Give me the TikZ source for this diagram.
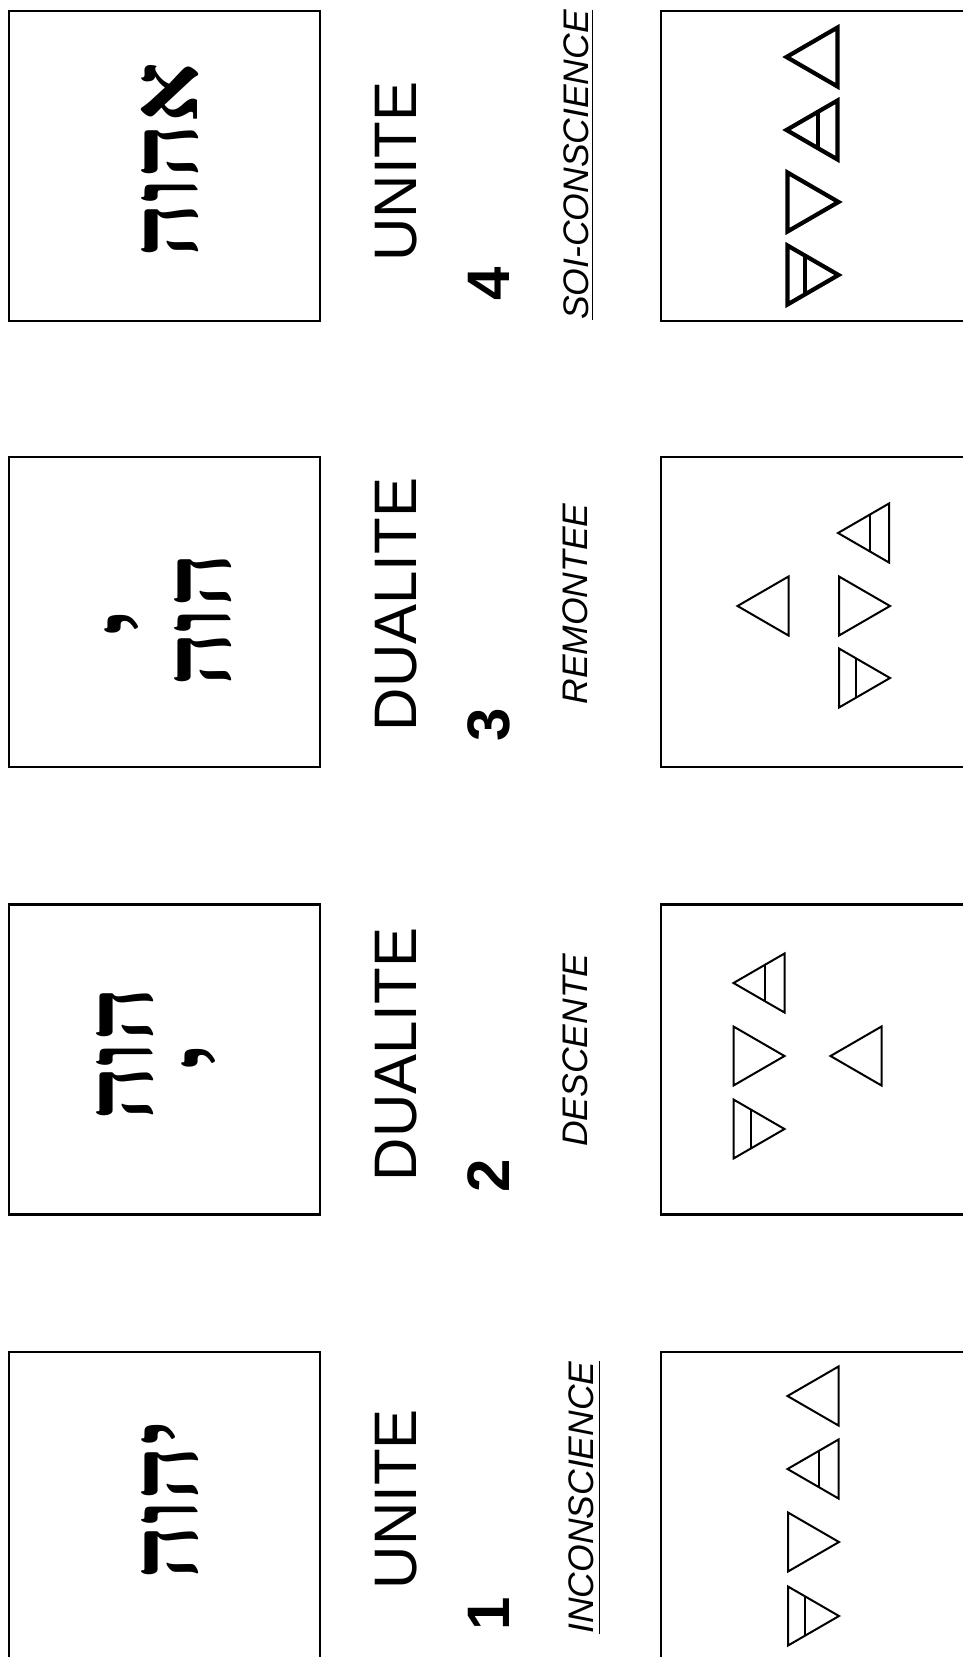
\documentclass[tikz,border=0pt]{standalone}
\usepackage{fontspec}
\setmainfont{Liberation Sans}
\newfontfamily\hebfont[Script=Hebrew]{Liberation Serif}
\TeXXeTstate=1
\begin{document}
\begin{tikzpicture}[x=1pt,y=-1pt,
  panel/.style={draw=black, line width=2.6pt, minimum width=311pt, minimum height=310pt, inner sep=0pt},
  big/.style={rotate=90, inner sep=0pt, font=\fontsize{60}{72}\selectfont},
  num/.style={rotate=90, inner sep=0pt, font=\fontsize{60}{72}\selectfont\bfseries},
  sublabel/.style={rotate=90, inner sep=0pt, font=\fontsize{35.5}{40}\selectfont\itshape},
  heb/.style={rotate=90, inner sep=0pt, font=\fontsize{95}{100}\selectfont\hebfont\bfseries},
  uline/.style={line width=1.4pt},
  thinel/.style={line width=2pt},
  thickel/.style={line width=4.2pt},
  fireL/.pic={\draw (-25.5,0) -- (25.5,-29.5) -- (25.5,29.5) -- cycle;},
  airL/.pic={\draw (-25.5,0) -- (25.5,-29.5) -- (25.5,29.5) -- cycle;
             \draw (6.1,-18.3) -- (6.1,18.3);},
  waterR/.pic={\draw (25.5,0) -- (-25.5,-29.5) -- (-25.5,29.5) -- cycle;},
  earthR/.pic={\draw (25.5,0) -- (-25.5,-29.5) -- (-25.5,29.5) -- cycle;
               \draw (-8.2,-19.5) -- (-8.2,19.5);}
]
\clip (0,0) rectangle (963,1657);
\fill[white] (0,0) rectangle (963,1657);

% panels
\node[panel] (h4) at (164.5,166) {};
\node[panel] (h3) at (164.5,612) {};
\node[panel] (h2) at (164.5,1059.5) {};
\node[panel] (h1) at (164.5,1507) {};
\node[panel] (e4) at (816.5,166) {};
\node[panel] (e3) at (816.5,612) {};
\node[panel] (e2) at (816.5,1059.5) {};
\node[panel] (e1) at (816.5,1507) {};

% hebrew
\node[heb] (w4) at (170,160) {\beginR אהוה\endR};
\node[heb] (w3) at (203,620) {\beginR הוה\endR};
\node[heb] (y3) at (133,623) {\beginR י\endR};
\node[heb] (w2) at (125,1054) {\beginR הוה\endR};
\node[heb] (y2) at (210,1057) {\beginR י\endR};
\node[heb] (w1) at (170,1500) {\beginR יהוה\endR};

% labels
\node[big] (t4) at (396.5,171.5) {UNITE};
\node[num] (n4) at (488.5,283.5) {4};
\node[sublabel] (s4) at (576.5,165) {SOI-CONSCIENCE};
\draw[uline] ([xshift=3pt]s4.south west) -- ([xshift=3pt]s4.south east);

\node[big] (t3) at (396.5,604.5) {DUALITE};
\node[num] (n3) at (488.5,725) {3};
\node[sublabel] (s3) at (575,604) {REMONTEE};

\node[big] (t2) at (396.5,1054.5) {DUALITE};
\node[num] (n2) at (488.5,1176) {2};
\node[sublabel] (s2) at (575,1050) {DESCENTE};

\node[big] (t1) at (396.5,1499) {UNITE};
\node[num] (n1) at (488.5,1613.5) {1};
\node[sublabel] (s1) at (581.5,1497.5) {INCONSCIENCE};
\draw[uline] ([xshift=5pt]s1.south west) -- ([xshift=5pt]s1.south east);

% elements, row 4 (col 4)
\pic[thickel] at (812,57) {fireL};
\pic[thickel] at (812,130) {airL};
\pic[thickel] at (813,202) {waterR};
\pic[thickel] at (813,275) {earthR};
% row 3 (remontee)
\pic[thinel] at (863.5,533) {airL};
\pic[thinel] at (763,606) {fireL};
\pic[thinel] at (864.5,606) {waterR};
\pic[thinel] at (864.5,678) {earthR};
% row 2 (descente)
\pic[thinel] at (759,983) {airL};
\pic[thinel] at (759,1056) {waterR};
\pic[thinel] at (856,1056) {fireL};
\pic[thinel] at (759,1129) {earthR};
% row 1 (col 1)
\pic[thinel] at (813,1396) {fireL};
\pic[thinel] at (813,1469) {airL};
\pic[thinel] at (813.5,1542) {waterR};
\pic[thinel] at (813.5,1616) {earthR};
\end{tikzpicture}
\end{document}
